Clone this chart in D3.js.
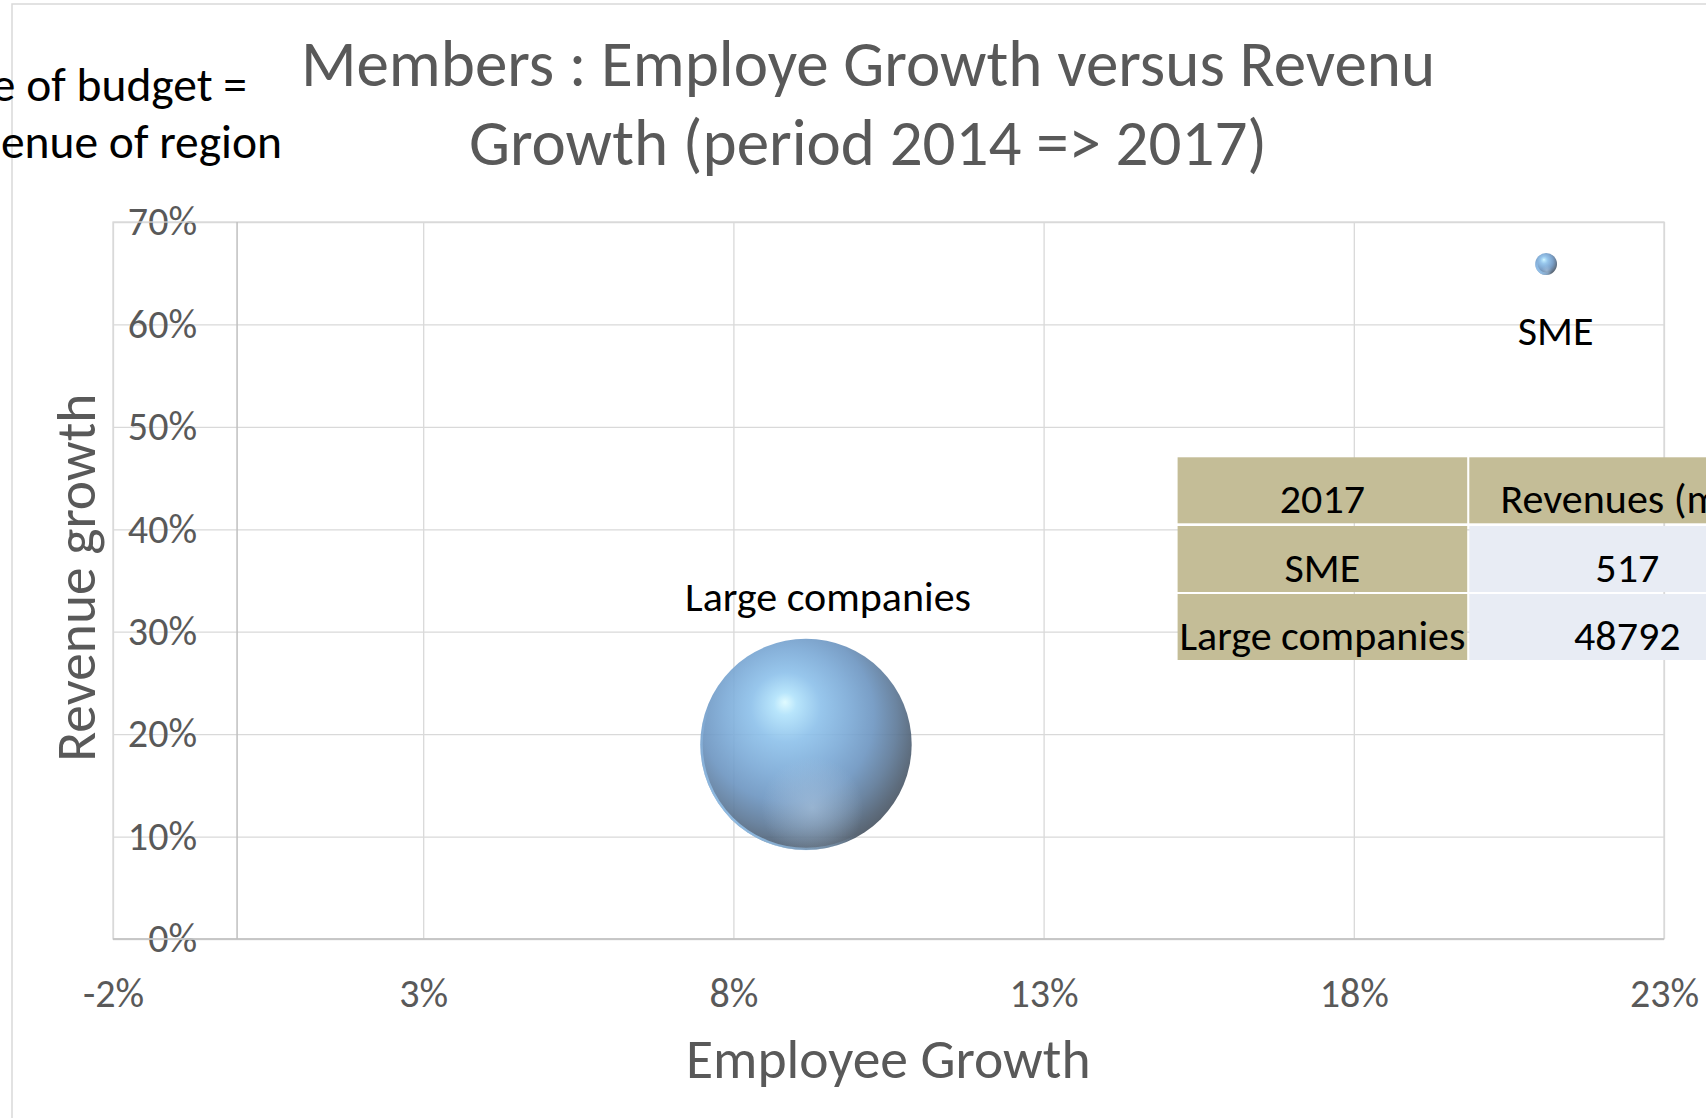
<!DOCTYPE html>
<html>
<head>
<meta charset="utf-8">
<script src="https://cdn.jsdelivr.net/npm/d3@7"></script>
<style>
  body { margin: 0; background: #fff; }
  svg { display: block; font-family: Carlito, Lato, sans-serif; }
</style>
</head>
<body>
<svg id="chart" width="1706" height="1118"></svg>
<script>
// data
const segments = ["SME", "Large companies"];
const employeeGrowth = [0.211, 0.0917];
const revenueGrowth = [0.659, 0.19];
const revenues2017 = [517, 48792];
const xTickValues = [-0.02, 0.03, 0.08, 0.13, 0.18, 0.23];
const yTickValues = [0, 0.1, 0.2, 0.3, 0.4, 0.5, 0.6, 0.7];
const tableHeader = ["2017", "Revenues (m€)"];
const titleLines = ["Members : Employe Growth versus Revenu", "Growth (period 2014 => 2017)"];
const noteLines = ["e of budget =", "enue of region"];

const svg = d3.select("#chart");
const width = 1706;
const height = 1118;

const plot = { left: 113, right: 1664, top: 222, bottom: 939 };
const grey = "#595959";
const gridColor = "#d9d9d9";

const pct = d3.formatLocale({ decimal: ".", thousands: ",", grouping: [3], currency: ["", ""], minus: "-" }).format(".0%");

const x = d3.scaleLinear().domain([-0.02, 0.23]).range([plot.left, plot.right]);
const y = d3.scaleLinear().domain([0, 0.7]).range([plot.bottom, plot.top]);
const r = d3.scaleSqrt().domain([0, d3.max(revenues2017)]).range([0, 105.7]);

svg.append("rect").attr("width", width).attr("height", height).attr("fill", "#fff");

// chart area border (runs off the right/bottom of the shot)
svg.append("rect")
  .attr("x", 12).attr("y", 4)
  .attr("width", 1800).attr("height", 1200)
  .attr("fill", "none")
  .attr("stroke", gridColor)
  .attr("stroke-width", 1.5);

// gridlines + x tick labels
svg.append("g")
  .attr("transform", `translate(0,${plot.bottom})`)
  .call(d3.axisBottom(x).tickValues(xTickValues).tickSize(-(plot.bottom - plot.top)).tickFormat(pct))
  .attr("font-family", null)
  .attr("font-size", null)
  .call(g => g.select(".domain").remove())
  .call(g => g.selectAll("line").attr("stroke", gridColor).attr("stroke-width", 1.3))
  .call(g => g.selectAll("text")
    .attr("y", 67.5).attr("dy", null)
    .attr("fill", grey)
    .style("font-size", "40px"));

// gridlines + y tick labels (labels sit inside the plot, right of its left edge)
svg.append("g")
  .attr("transform", `translate(${plot.left},0)`)
  .call(d3.axisLeft(y).tickValues(yTickValues).tickSize(-(plot.right - plot.left)).tickFormat(pct))
  .attr("font-family", null)
  .attr("font-size", null)
  .call(g => g.select(".domain").remove())
  .call(g => g.selectAll("line").attr("stroke", gridColor).attr("stroke-width", 1.3))
  .call(g => g.selectAll("text")
    .attr("x", 84).attr("dy", "0.32em")
    .attr("text-anchor", "end")
    .attr("fill", grey)
    .style("font-size", "40px"));

// plot border
svg.append("rect")
  .attr("x", plot.left).attr("y", plot.top)
  .attr("width", plot.right - plot.left).attr("height", plot.bottom - plot.top)
  .attr("fill", "none")
  .attr("stroke", gridColor)
  .attr("stroke-width", 1.3);

// axis lines: vertical axis crosses at 0%
svg.append("line")
  .attr("x1", x(0)).attr("x2", x(0))
  .attr("y1", plot.top).attr("y2", plot.bottom)
  .attr("stroke", "#bfbfbf").attr("stroke-width", 1.5);
svg.append("line")
  .attr("x1", plot.left).attr("x2", plot.right)
  .attr("y1", y(0)).attr("y2", y(0))
  .attr("stroke", "#bfbfbf").attr("stroke-width", 1.5);

// sphere shading
const defs = svg.append("defs");
const sphere = defs.append("radialGradient").attr("id", "sphere")
  .attr("cx", 0.42).attr("cy", 0.4).attr("r", 0.66)
  .attr("fx", 0.4).attr("fy", 0.3);
[[0, "#dcfaff"], [0.08, "#b0e2fb"], [0.25, "#8cc0ea"], [0.45, "#7aa9d6"], [0.62, "#6b94c0"], [0.78, "#5b7796"], [0.9, "#4c5d70"], [1, "#414a55"]]
  .forEach(([o, c]) => sphere.append("stop").attr("offset", o).attr("stop-color", c));

const glow = defs.append("radialGradient").attr("id", "glow")
  .attr("cx", 0.53).attr("cy", 0.8).attr("r", 0.24);
glow.append("stop").attr("offset", 0).attr("stop-color", "#b4cce4").attr("stop-opacity", 0.55);
glow.append("stop").attr("offset", 1).attr("stop-color", "#b4cce4").attr("stop-opacity", 0);

const rim = defs.append("linearGradient").attr("id", "rim")
  .attr("x1", 0.1).attr("y1", 1).attr("x2", 0.8).attr("y2", 0.2);
rim.append("stop").attr("offset", 0).attr("stop-color", "#9fd2ff").attr("stop-opacity", 1);
rim.append("stop").attr("offset", 0.45).attr("stop-color", "#9fd2ff").attr("stop-opacity", 0);

const points = segments.map((name, i) => ({
  name,
  x: employeeGrowth[i],
  y: revenueGrowth[i],
  revenue: revenues2017[i]
}));

const bubble = svg.append("g").selectAll("g")
  .data(points)
  .join("g")
  .attr("transform", d => `translate(${x(d.x)},${y(d.y)})`);

bubble.append("circle").attr("r", d => r(d.revenue)).attr("fill", "url(#sphere)").attr("opacity", 0.9);
bubble.append("circle").attr("r", d => r(d.revenue)).attr("fill", "url(#glow)");
bubble.append("circle").attr("r", d => Math.max(r(d.revenue) - 1.2, 0))
  .attr("fill", "none").attr("stroke", "url(#rim)").attr("stroke-width", 2.5);

// data labels were dragged by hand in the original
const labelNudge = { "SME": [9.5, 80.7], "Large companies": [22, -133.8] };
svg.append("g").selectAll("text")
  .data(points)
  .join("text")
  .attr("x", d => x(d.x) + labelNudge[d.name][0])
  .attr("y", d => y(d.y) + labelNudge[d.name][1])
  .attr("text-anchor", "middle")
  .attr("fill", "#000")
  .style("font-size", "42px")
  .text(d => d.name);

// revenue table pasted onto the chart
const colX = [1177.6, 1469.3];
const colW = [289.6, 316];
const rowY = [457.3, 526, 594];
const rowH = 66;
const tableRows = [tableHeader].concat(segments.map((s, i) => [s, String(revenues2017[i])]));

const rows = svg.append("g").selectAll("g")
  .data(tableRows)
  .join("g")
  .attr("transform", (d, i) => `translate(0,${rowY[i]})`);

rows.selectAll("rect")
  .data((d, i) => d.map((v, j) => ({ v, j, header: i === 0 })))
  .join("rect")
  .attr("x", c => colX[c.j])
  .attr("width", c => colW[c.j])
  .attr("height", rowH)
  .attr("fill", c => (c.header || c.j === 0) ? "#c4bd97" : "#e8ecf4");

rows.selectAll("text")
  .data((d, i) => d.map((v, j) => ({ v, j })))
  .join("text")
  .attr("x", c => colX[c.j] + colW[c.j] / 2)
  .attr("y", 55.5)
  .attr("text-anchor", "middle")
  .attr("fill", "#000")
  .style("font-size", "42px")
  .text(c => c.v);

// titles
svg.append("text")
  .attr("text-anchor", "middle")
  .attr("fill", grey)
  .style("font-size", "65px")
  .selectAll("tspan")
  .data(titleLines)
  .join("tspan")
  .attr("x", 868)
  .attr("y", (d, i) => [85.7, 165][i])
  .text(d => d);

svg.append("text")
  .attr("text-anchor", "end")
  .attr("fill", "#000")
  .style("font-size", "47.5px")
  .selectAll("tspan")
  .data(noteLines)
  .join("tspan")
  .attr("x", (d, i) => [247, 282][i])
  .attr("y", (d, i) => [100.7, 158.3][i])
  .text(d => d);

svg.append("text")
  .attr("x", 888.3).attr("y", 1078.3)
  .attr("text-anchor", "middle")
  .attr("fill", grey)
  .style("font-size", "55.5px")
  .text("Employee Growth");

svg.append("text")
  .attr("transform", "translate(95,577.7) rotate(-90)")
  .attr("text-anchor", "middle")
  .attr("fill", grey)
  .style("font-size", "55.5px")
  .text("Revenue growth");
</script>
</body>
</html>
